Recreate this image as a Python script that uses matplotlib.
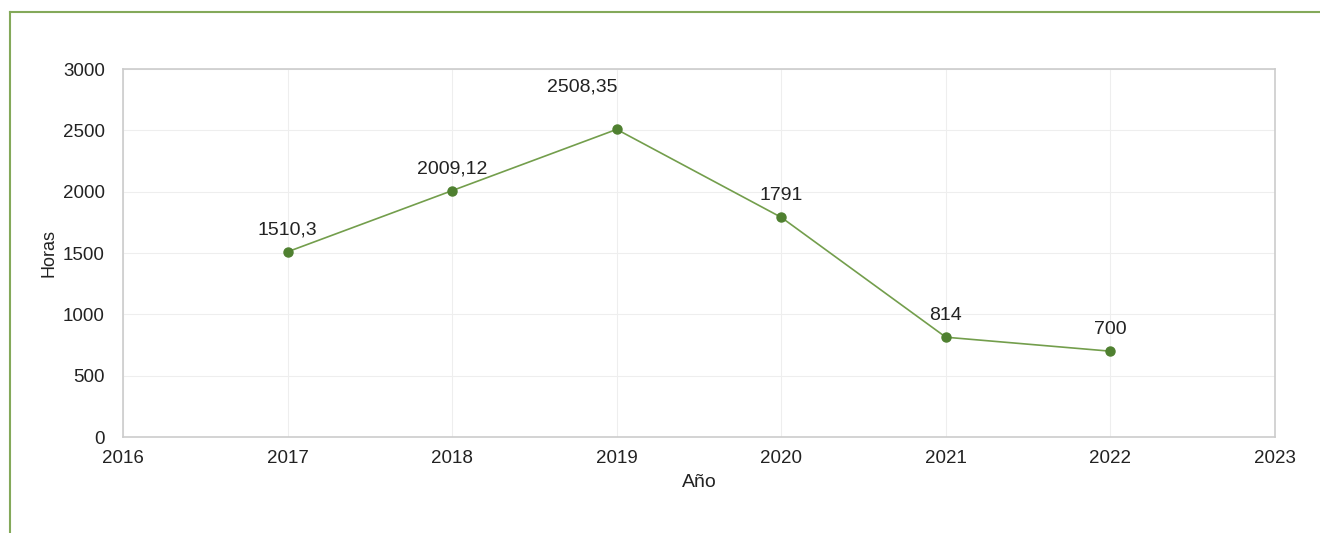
import matplotlib.pyplot as plt
from matplotlib.lines import Line2D

# datos
years = [2017, 2018, 2019, 2020, 2021, 2022]
hours = [1510.3, 2009.12, 2508.35, 1791, 814, 700]
labels = ["1510,3", "2009,12", "2508,35", "1791", "814", "700"]
x_ticks = [2016, 2017, 2018, 2019, 2020, 2021, 2022, 2023]
y_ticks = [0, 500, 1000, 1500, 2000, 2500, 3000]

plt.rcParams['font.family'] = ['Liberation Sans', 'DejaVu Sans']

fig = plt.figure(figsize=(13.2, 5.33), dpi=100)
ax = fig.add_axes([0.0932, 0.180, 0.8727, 0.6904])

ax.plot(years, hours, color="#739e4c", linewidth=1.2, marker="o",
        markersize=6.5, markerfacecolor="#4f8030", markeredgecolor="#4f8030", zorder=3)

# etiquetas de valores
for i, (x, y, t) in enumerate(zip(years, hours, labels)):
    dx, dy = 0, 13
    if i == 2:
        dx, dy = -34, 34
    ax.annotate(t, (x, y), xytext=(dx, dy), textcoords="offset pixels",
                ha="center", va="bottom", fontsize=14, color="#222222")

ax.set_xlim(2016, 2023)
ax.set_ylim(0, 3000)
ax.set_xticks(x_ticks)
ax.set_yticks(y_ticks)
ax.tick_params(length=0, labelsize=13.5, labelcolor="#222222")
ax.tick_params(axis="y", pad=13)
ax.tick_params(axis="x", pad=9)
ax.grid(color="#eeeeee", linewidth=0.8)
for s in ax.spines.values():
    s.set_color("#cccccc")
    s.set_linewidth(1.2)

ax.set_xlabel("Año", fontsize=14, color="#222222", labelpad=5)
ax.set_ylabel("Horas", fontsize=13, color="#222222", labelpad=4)

# marco verde
fig.add_artist(Line2D([10/1320, 1], [1 - 12/533, 1 - 12/533], color="#84a95a", linewidth=1.5))
fig.add_artist(Line2D([10/1320, 10/1320], [0, 1 - 12/533], color="#84a95a", linewidth=1.5))

fig.savefig("out.png", dpi=100)
